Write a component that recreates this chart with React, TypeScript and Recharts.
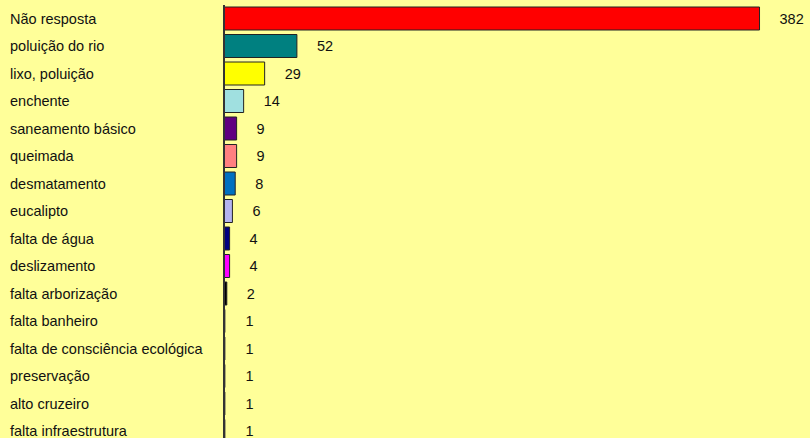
import React from 'react';
import { BarChart, Bar, XAxis, YAxis, Cell, LabelList, ReferenceLine } from 'recharts';

// categories and counts, top to bottom
const categories = [
  'Não resposta',
  'poluição do rio',
  'lixo, poluição',
  'enchente',
  'saneamento básico',
  'queimada',
  'desmatamento',
  'eucalipto',
  'falta de água',
  'deslizamento',
  'falta arborização',
  'falta banheiro',
  'falta de consciência ecológica',
  'preservação',
  'alto cruzeiro',
  'falta infraestrutura',
];
const counts = [382, 52, 29, 14, 9, 9, 8, 6, 4, 4, 2, 1, 1, 1, 1, 1];
const barColors = [
  '#FF0000', '#008080', '#FFFF00', '#A0E0E0', '#600080', '#FF8080', '#0070C0', '#B4B4F0',
  '#000080', '#FF00FF', '#000000', '#333333', '#333333', '#333333', '#333333', '#333333',
];

const FONT = '"Liberation Sans", Arial, sans-serif';

const data = categories.map((name, i) => ({ name, value: counts[i] }));

const CategoryTick = (props: any) => {
  const { y, payload } = props;
  return (
    <text x={10} y={y} dy="0.355em" textAnchor="start" fontSize={14.5} fontFamily={FONT} fill="#111">
      {payload.value}
    </text>
  );
};

const App: React.FC = () => {
  return (
    <div
      style={{
        position: 'fixed',
        left: 0,
        top: 0,
        width: 810,
        height: 438,
        overflow: 'hidden',
        background: '#FFFF99',
      }}
    >
      <BarChart
        width={810}
        height={450}
        data={data}
        layout="vertical"
        margin={{ top: 5, right: 0, bottom: 5, left: 8 }}
      >
        <XAxis type="number" hide domain={[0, 418]} />
        <YAxis
          type="category"
          dataKey="name"
          width={216}
          tick={<CategoryTick />}
          tickLine={false}
          axisLine={false}
          interval={0}
        />
        <Bar dataKey="value" barSize={23} isAnimationActive={false}>
          {data.map((d, i) => (
            <Cell
              key={d.name}
              fill={barColors[i]}
              stroke={d.value > 1 ? '#222' : 'none'}
              strokeWidth={1}
            />
          ))}
          <LabelList
            dataKey="value"
            position="right"
            offset={20}
            style={{ fontSize: 14.5, fontFamily: FONT, fill: '#111' }}
          />
        </Bar>
        {/* category axis line drawn over the bars, like the original */}
        <ReferenceLine x={0} stroke="#333" strokeWidth={2} />
      </BarChart>
    </div>
  );
};

export default App;
